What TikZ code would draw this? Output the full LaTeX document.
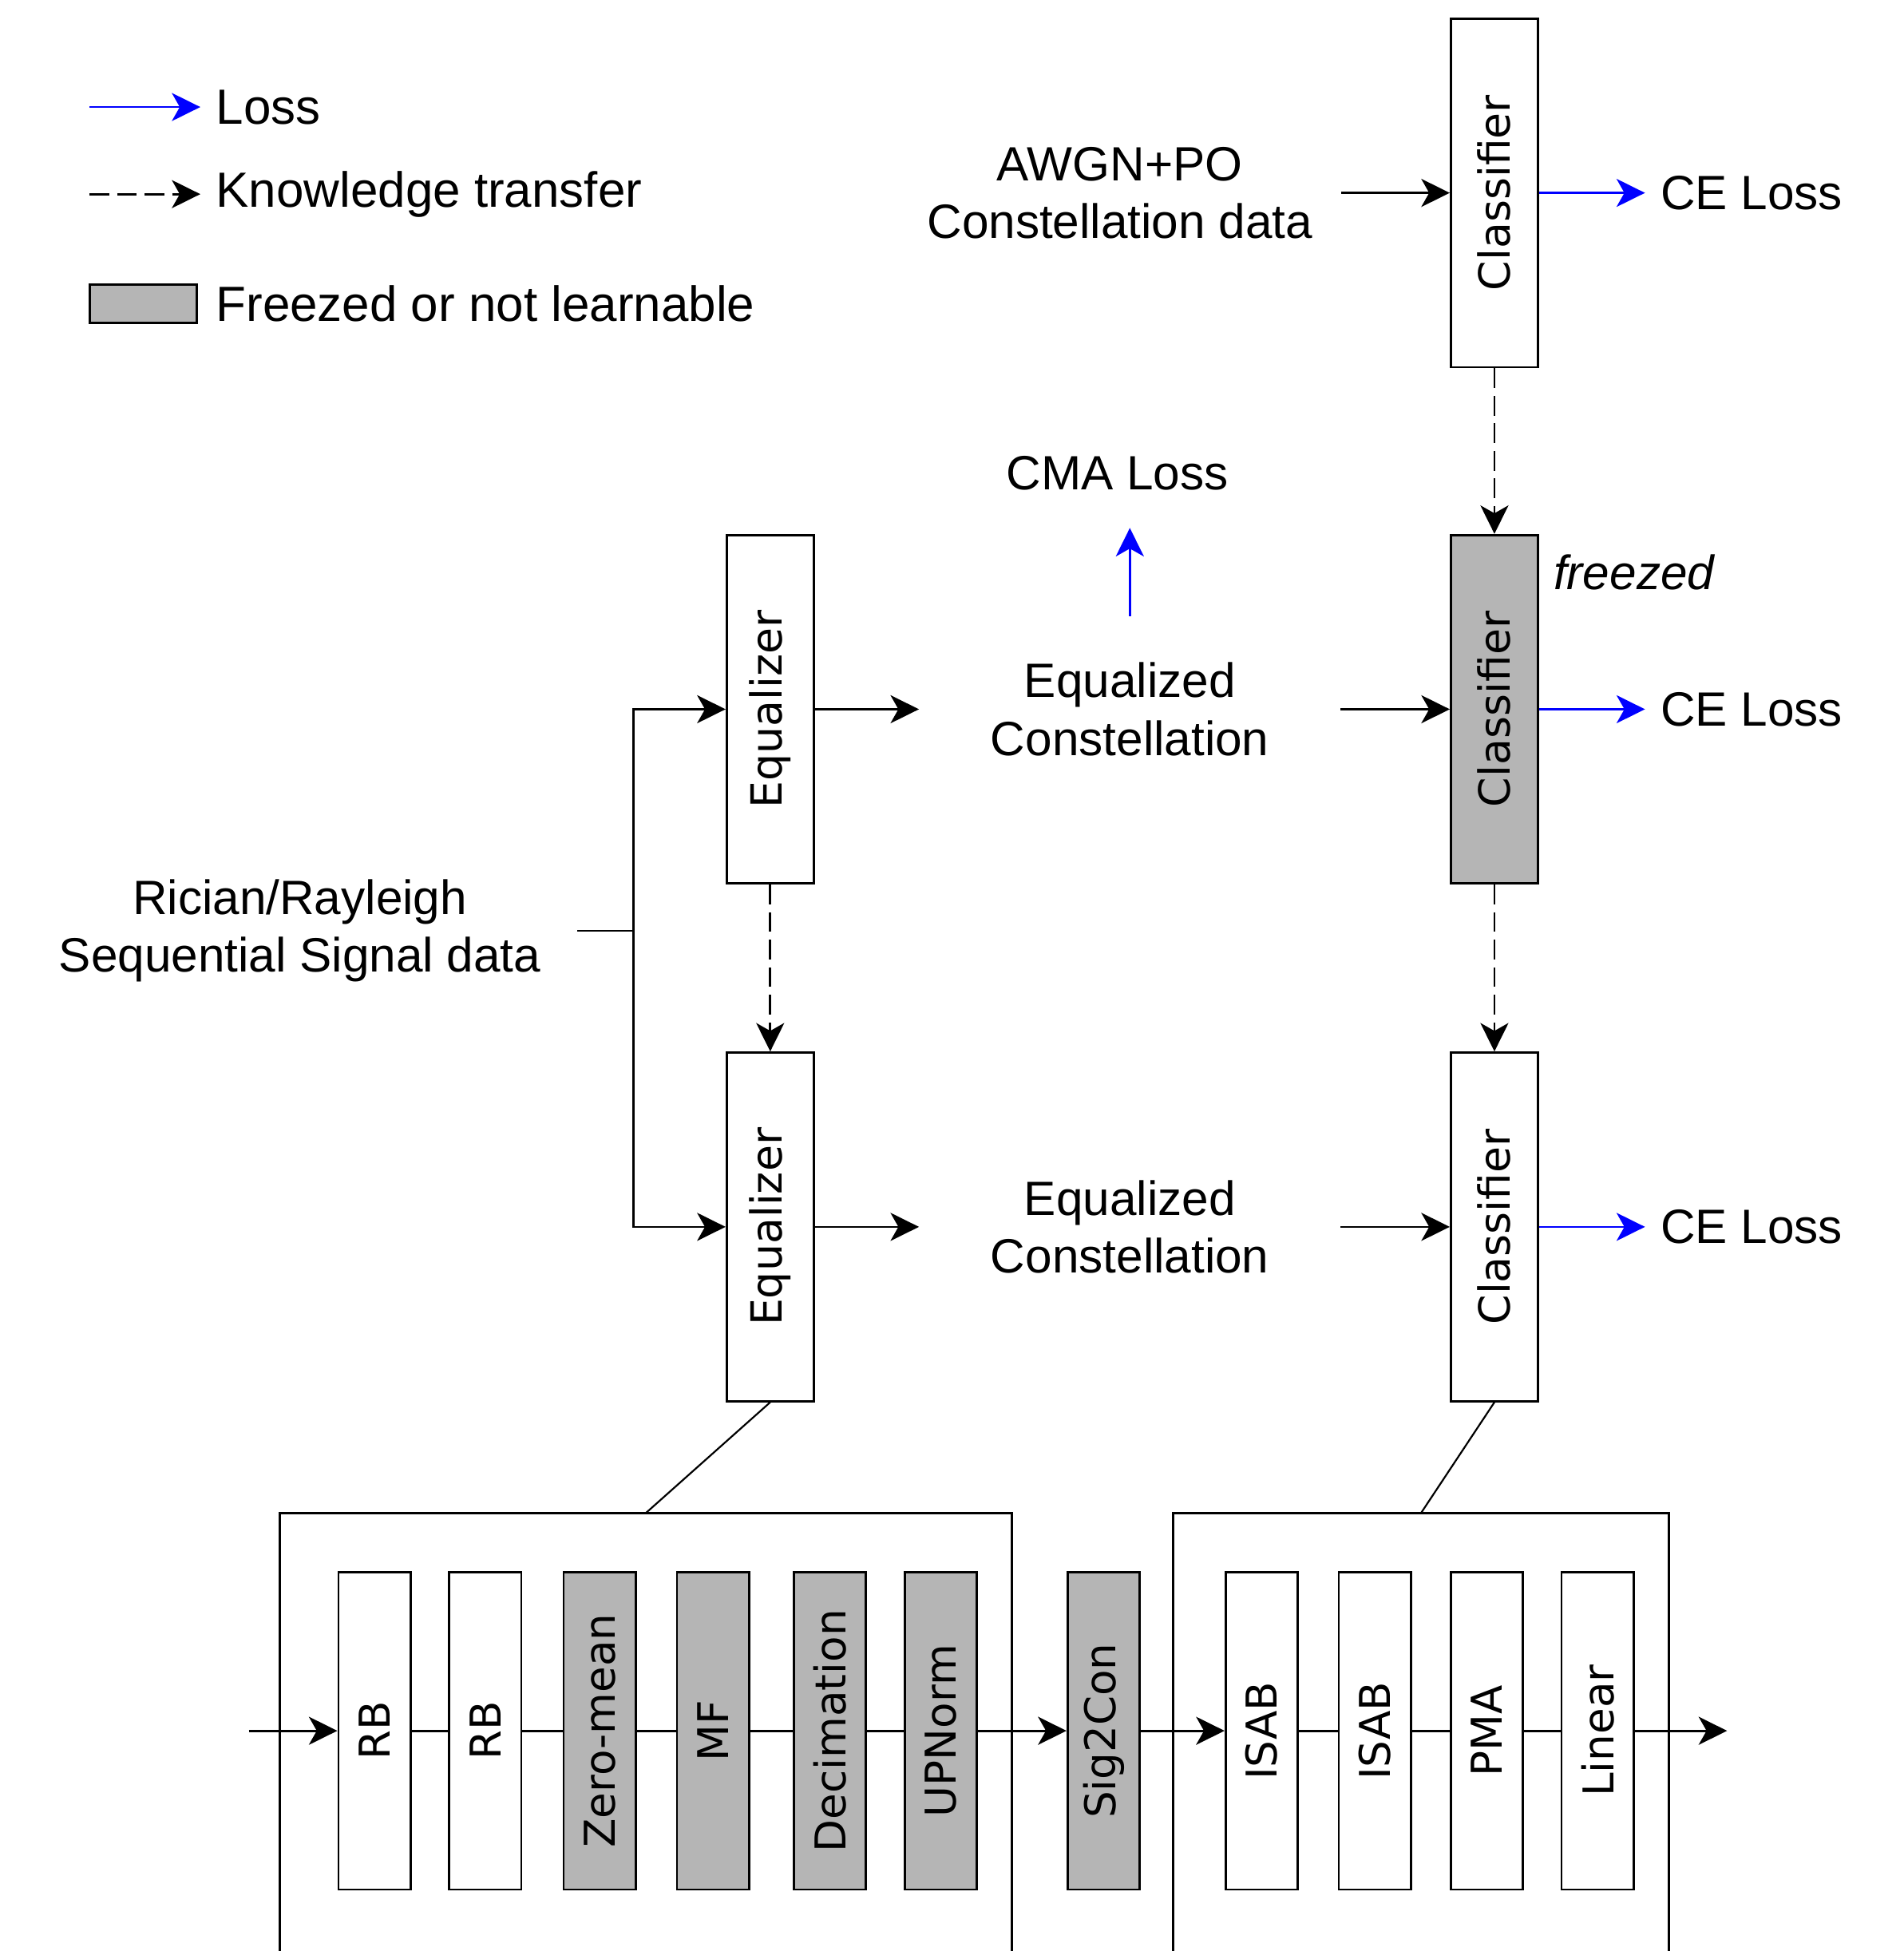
\documentclass[tikz,border=0pt]{standalone}
\usepackage{fontspec}
\setmainfont{Liberation Sans}
\newfontfamily\boxfont{DejaVu Sans}
\usetikzlibrary{arrows.meta}
\definecolor{frz}{HTML}{B5B5B5}

\tikzstyle{arr} = [draw, -{Stealth[length=6.5pt,width=6.4pt,inset=1.8pt]}]
\tikzstyle{lossarr} = [arr, blue]
\tikzstyle{ktarr} = [arr, dash pattern=on 4.5pt off 1.8pt]
\tikzstyle{txt} = [font=\fontsize{11}{13.2}\selectfont, align=center]
\tikzstyle{keytxt} = [font=\fontsize{11.3}{13.5}\selectfont, anchor=west]
\tikzstyle{blk} = [draw, minimum width=0.7cm, minimum height=2.8cm, inner sep=0pt, font=\boxfont\fontsize{9.8}{11}\selectfont]
\tikzstyle{frzblk} = [blk, fill=frz]
\tikzstyle{layer} = [draw, minimum width=0.58cm, minimum height=2.55cm, inner sep=0pt, font=\boxfont\fontsize{9.7}{11}\selectfont]
\tikzstyle{frzlayer} = [layer, fill=frz]
\tikzstyle{frame} = [minimum height=3.51cm, inner sep=0pt]

\begin{document}
\begin{tikzpicture}[x=0.01cm, y=-0.01cm, line width=0.5pt]
		\useasboundingbox (0,0) rectangle (1530,1568);
		% legend
		\coordinate (keyA) at (72,86);
		\node [keytxt] (keyLoss) at (161,86) {Loss};
		\draw [lossarr] (keyA) -- (keyLoss.west);
		\coordinate (keyB) at (72,156);
		\node [keytxt] (keyKT) at (161,156) {Knowledge transfer};
		\draw [ktarr] (keyB) -- (keyKT.west);
		\node [draw, fill=frz, minimum width=0.86cm, minimum height=0.31cm, inner sep=0pt] (keyBox) at (115,244) {};
		\node [keytxt] (keyFrz) at (161,244) {Freezed or not learnable};
		
		% classifier pre-training
		\node [blk] (cls1) at (1201,155) {\rotatebox{90}{Classifier}};
		\node [txt, minimum width=3.54cm] (awgn) at (900,155) {AWGN+PO\\Constellation data};
		\draw [arr] (awgn.east) -- (cls1.west);
		\node [txt, anchor=west] (ce1) at (1322,155) {CE Loss};
		\draw [lossarr] (cls1.east) -- (ce1.west);
		
		% equalizer training, classifier frozen
		\node [frzblk] (cls2) at (1201,570) {\rotatebox{90}{Classifier}};
		\node [txt, anchor=west] (frzTag) at (1236,460) {\itshape freezed};
		\draw [ktarr] (cls1.south) -- (cls2.north);
		\node [blk] (eq1) at (619,570) {\rotatebox{90}{Equalizer}};
		\node [txt, minimum width=3.37cm] (eqc1) at (908,570) {Equalized\\Constellation};
		\draw [arr] (eq1.east) -- (eqc1.west);
		\draw [arr] (eqc1.east) -- (cls2.west);
		\node [txt, anchor=west] (ce2) at (1322,570) {CE Loss};
		\draw [lossarr] (cls2.east) -- (ce2.west);
		\node [txt] (cma) at (898,380) {CMA Loss};
		\draw [lossarr, shorten <=0.25cm, shorten >=0.18cm] (eqc1.north) -- (eqc1.north |- cma.south);
		
		% joint fine-tuning
		\node [blk] (cls3) at (1201,986) {\rotatebox{90}{Classifier}};
		\draw [ktarr] (cls2.south) -- (cls3.north);
		\node [blk] (eq2) at (619,986) {\rotatebox{90}{Equalizer}};
		\draw [ktarr] (eq1.south) -- (eq2.north);
		\node [txt, minimum width=3.37cm] (eqc2) at (908,986) {Equalized\\Constellation};
		\draw [arr] (eq2.east) -- (eqc2.west);
		\draw [arr] (eqc2.east) -- (cls3.west);
		\node [txt, anchor=west] (ce3) at (1322,986) {CE Loss};
		\draw [lossarr] (cls3.east) -- (ce3.west);
		
		% input signal to both equalizers
		\node [txt, minimum width=4.44cm] (ric) at (241,748) {Rician/Rayleigh\\Sequential Signal data};
		\coordinate (fork) at (509,748);
		\draw (ric.east) -- (fork);
		\draw [arr] (fork) |- (eq1.west);
		\draw [arr] (fork) |- (eq2.west);
		
		% detail of the two networks
		\node [frame, minimum width=5.86cm] (encNet) at (519,1392.5) {};
		\draw (encNet.south west) |- (encNet.north east) -- (encNet.south east);
		\node [frame, minimum width=3.96cm] (clsNet) at (1142,1392.5) {};
		\draw (clsNet.south west) |- (clsNet.north east) -- (clsNet.south east);
		\draw [line width=0.4pt] (eq2.south) -- (encNet.north);
		\draw [line width=0.4pt] (cls3.south) -- (clsNet.north);
		
		\node [layer] (rb1) at (301,1391) {\rotatebox{90}{RB}};
		\node [layer] (rb2) at (390,1391) {\rotatebox{90}{RB}};
		\node [frzlayer] (zm) at (482,1391) {\rotatebox{90}{Zero-mean}};
		\node [frzlayer] (mf) at (573,1391) {\rotatebox{90}{MF}};
		\node [frzlayer] (dec) at (667,1391) {\rotatebox{90}{Decimation}};
		\node [frzlayer] (upn) at (756,1391) {\rotatebox{90}{UPNorm}};
		\node [frzlayer] (s2c) at (887,1391) {\rotatebox{90}{Sig2Con}};
		\node [layer] (isab1) at (1014,1391) {\rotatebox{90}{ISAB}};
		\node [layer] (isab2) at (1105,1391) {\rotatebox{90}{ISAB}};
		\node [layer] (pma) at (1195,1391) {\rotatebox{90}{PMA}};
		\node [layer] (lin) at (1284,1391) {\rotatebox{90}{Linear}};
		
		\coordinate (netIn) at (200,1391);
		\coordinate (netOut) at (1388,1391);
		\draw [arr] (netIn) -- (rb1.west);
		\draw (rb1.east) -- (rb2.west);
		\draw (rb2.east) -- (zm.west);
		\draw (zm.east) -- (mf.west);
		\draw (mf.east) -- (dec.west);
		\draw (dec.east) -- (upn.west);
		\draw [arr] (upn.east) -- (s2c.west);
		\draw [arr] (s2c.east) -- (isab1.west);
		\draw (isab1.east) -- (isab2.west);
		\draw (isab2.east) -- (pma.west);
		\draw (pma.east) -- (lin.west);
		\draw [arr] (lin.east) -- (netOut);
	\end{tikzpicture}
\end{document}
